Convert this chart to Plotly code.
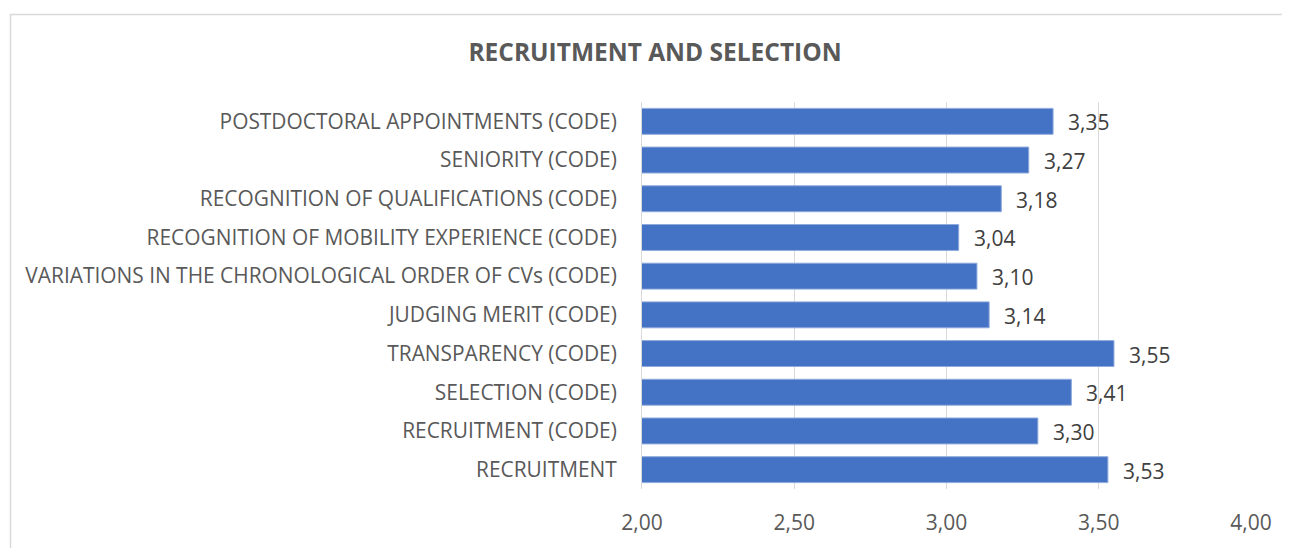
import plotly.graph_objects as go

categories = [
    "POSTDOCTORAL APPOINTMENTS (CODE)",
    "SENIORITY (CODE)",
    "RECOGNITION OF QUALIFICATIONS (CODE)",
    "RECOGNITION OF MOBILITY EXPERIENCE (CODE)",
    "VARIATIONS IN THE CHRONOLOGICAL ORDER OF CVs (CODE)",
    "JUDGING MERIT (CODE)",
    "TRANSPARENCY (CODE)",
    "SELECTION (CODE)",
    "RECRUITMENT (CODE)",
    "RECRUITMENT",
]
values = [3.35, 3.27, 3.18, 3.04, 3.10, 3.14, 3.55, 3.41, 3.30, 3.53]
tick_values = [2.0, 2.5, 3.0, 3.5, 4.0]

FONT = "Open Sans"
TXT = "#595959"

# page has an 8px body margin; figure coords = page coords - 8
W, H = 1282, 540
L, R, T, B = 634, 39, 94, 55
PW = W - L - R
PH = H - T - B

fig = go.Figure()
fig.add_trace(go.Bar(
    y=categories, x=values, orientation="h",
    base=0,
    marker=dict(color="#4472C4", line=dict(color="#8FAADC", width=1)),
    hoverinfo="skip",
))

for c, v in zip(categories, values):
    fig.add_annotation(
        x=v, y=c, xref="x", yref="y",
        text=f"{v:.2f}".replace(".", ","),
        showarrow=False, xanchor="left", xshift=13, yshift=-1,
        font=dict(family=FONT, size=21, color="#404040"),
    )

fig.update_layout(
    width=W, height=H,
    margin=dict(l=L, r=R, t=T, b=B),
    paper_bgcolor="white", plot_bgcolor="white",
    separators=",.",
    bargap=0.33,
    showlegend=False,
    title=dict(
        text="<b>RECRUITMENT AND SELECTION</b>",
        x=(655 - 8) / W, xanchor="center", y=1 - (52 - 8) / H, yanchor="middle",
        font=dict(family=FONT, size=24.5, color=TXT),
    ),
    xaxis=dict(
        range=[2, 4], tickvals=tick_values, tickformat=".2f",
        showgrid=True, gridcolor="#d9d9d9", gridwidth=1,
        zeroline=False, showline=False,
        tickfont=dict(family=FONT, size=21, color=TXT),
        ticklabelstandoff=19,
        fixedrange=True,
    ),
    yaxis=dict(
        autorange="reversed",
        showgrid=False, zeroline=False,
        showline=True, linecolor="#d9d9d9", linewidth=1,
        tickfont=dict(family=FONT, size=20.9, color=TXT),
        ticklabelstandoff=20,
        fixedrange=True,
    ),
    shapes=[dict(
        type="rect", xref="paper", yref="paper",
        x0=(2.5 - L) / PW, x1=1.3,
        y0=-0.4, y1=((T + PH) - 5.5) / PH,
        line=dict(color="#d9d9d9", width=1.5),
        fillcolor="rgba(0,0,0,0)", layer="below",
    )],
)

fig.write_html("out.html")
